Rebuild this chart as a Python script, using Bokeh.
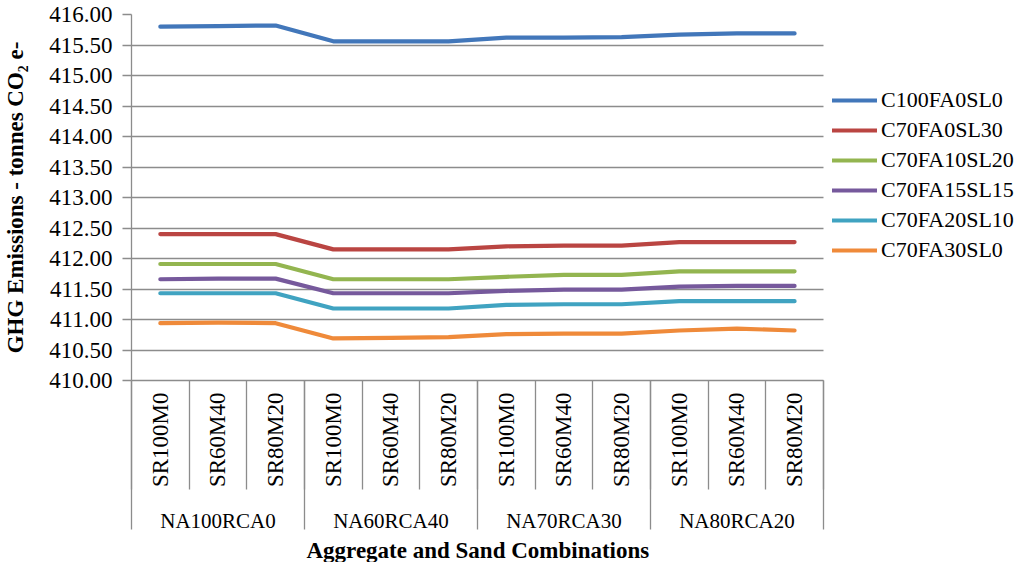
import math
from bokeh.plotting import figure
from bokeh.models import (LinearAxis, Range1d, FixedTicker, NumeralTickFormatter,
                          CustomJSTickFormatter, Legend, LegendItem, ColumnDataSource,
                          Title)
from bokeh.embed import file_html
from bokeh.resources import INLINE

# ---------------- data ----------------
groups = ["NA100RCA0", "NA60RCA40", "NA70RCA30", "NA80RCA20"]
subs = ["SR100M0", "SR60M40", "SR80M20"]

series_names = ["C100FA0SL0", "C70FA0SL30", "C70FA10SL20",
                "C70FA15SL15", "C70FA20SL10", "C70FA30SL0"]

c100fa0sl0 = [415.80, 415.81, 415.82, 415.56, 415.56, 415.56,
              415.62, 415.62, 415.63, 415.67, 415.69, 415.69]
c70fa0sl30 = [412.40, 412.40, 412.40, 412.15, 412.15, 412.15,
              412.20, 412.21, 412.21, 412.27, 412.27, 412.27]
c70fa10sl20 = [411.91, 411.91, 411.91, 411.66, 411.66, 411.66,
               411.70, 411.73, 411.73, 411.79, 411.79, 411.79]
c70fa15sl15 = [411.66, 411.67, 411.67, 411.43, 411.43, 411.43,
               411.47, 411.49, 411.49, 411.54, 411.55, 411.55]
c70fa20sl10 = [411.43, 411.43, 411.43, 411.18, 411.18, 411.18,
               411.24, 411.25, 411.25, 411.30, 411.30, 411.30]
c70fa30sl0 = [410.94, 410.95, 410.94, 410.69, 410.70, 410.71,
              410.76, 410.77, 410.77, 410.82, 410.85, 410.82]

y_ticks = [410.0, 410.5, 411.0, 411.5, 412.0, 412.5, 413.0,
           413.5, 414.0, 414.5, 415.0, 415.5, 416.0]

series_values = [c100fa0sl0, c70fa0sl30, c70fa10sl20,
                 c70fa15sl15, c70fa20sl10, c70fa30sl0]
colors = ["#4277BA", "#BA4542", "#93B550", "#76599C", "#40A3C1", "#EF8A3A"]

# ---------------- layout / styling ----------------
FONT = "Liberation Serif"
GRID = "#8C8C8C"
TEXT = "#000000"

W, H = 1024, 562
LEFT = 127          # space for the y axis
PLOT_W = 695        # width of the category area
FRAME_W = W - LEFT  # frame also holds the legend on the right

factors = [(g, s) for g in groups for s in subs]
n = len(factors)
k = len(subs)
x_pos = [i + 0.5 for i in range(n)]          # category centres
x_end = n * FRAME_W / PLOT_W                  # extend range so legend fits in frame

p = figure(width=W, height=H,
           x_range=Range1d(0, x_end),
           y_range=Range1d(y_ticks[0], y_ticks[-1]),
           x_axis_location=None,
           output_backend="svg", toolbar_location=None,
           min_border_left=LEFT, min_border_right=0,
           min_border_top=14, min_border_bottom=0)
p.outline_line_color = None
p.background_fill_color = "white"
p.border_fill_color = "white"
p.xgrid.visible = False

# y axis
ya = p.yaxis[0]
ya.ticker = FixedTicker(ticks=y_ticks)
ya.formatter = NumeralTickFormatter(format="0.00")
ya.axis_line_color = GRID
ya.axis_line_width = 1.3
ya.major_tick_line_color = GRID
ya.major_tick_line_width = 1.3
ya.major_tick_out = 9
ya.major_tick_in = 0
ya.minor_tick_line_color = None
ya.major_label_text_font = FONT
ya.major_label_text_font_size = "23px"
ya.major_label_text_color = TEXT
ya.major_label_standoff = 10
ya.axis_label = "GHG Emissions - tonnes CO\u2082 e-"
ya.axis_label_text_font = FONT
ya.axis_label_text_font_style = "bold"
ya.axis_label_text_font_size = "23px"
ya.axis_label_text_color = TEXT
ya.axis_label_standoff = 18

p.ygrid.grid_line_color = GRID
p.ygrid.grid_line_width = 1.3
p.ygrid.ticker = FixedTicker(ticks=y_ticks)
p.ygrid.cross_bounds = (0, n)

# separator axis: category boundary lines below the plot
sep = LinearAxis(ticker=FixedTicker(ticks=list(range(0, n + 1, k)),
                                    minor_ticks=list(range(0, n + 1))),
                 formatter=CustomJSTickFormatter(code="return ''"),
                 bounds=(0, n))
sep.axis_line_color = GRID
sep.axis_line_width = 1.3
sep.major_tick_line_color = GRID
sep.major_tick_line_width = 1.3
sep.major_tick_in = -149
sep.major_tick_out = 0
sep.minor_tick_line_color = GRID
sep.minor_tick_line_width = 1.3
sep.minor_tick_in = -109
sep.minor_tick_out = 0
sep.major_label_standoff = 0
p.add_layout(sep, "below")

# sub-category labels (centre of each category)
sub_labels = [s for g, s in factors]
xa = LinearAxis(ticker=FixedTicker(ticks=x_pos, minor_ticks=[]),
                major_label_overrides={pos: lab for pos, lab in zip(x_pos, sub_labels)},
                bounds=(0, n))
xa.axis_line_color = None
xa.major_tick_line_color = None
xa.major_tick_out = 0
xa.major_tick_in = 0
xa.minor_tick_line_color = None
xa.minor_tick_out = 0
xa.major_label_orientation = math.pi / 2
xa.major_label_text_font = FONT
xa.major_label_text_font_size = "23px"
xa.major_label_text_color = TEXT
xa.major_label_standoff = 12
p.add_layout(xa, "below")

# group labels (centre of each group)
grp_pos = [k * (j + 0.5) for j in range(len(groups))]
ga = LinearAxis(ticker=FixedTicker(ticks=grp_pos, minor_ticks=[]),
                major_label_overrides={pos: lab for pos, lab in zip(grp_pos, groups)},
                bounds=(0, n))
ga.axis_line_color = None
ga.major_tick_line_color = None
ga.major_tick_out = 0
ga.major_tick_in = 0
ga.minor_tick_line_color = None
ga.minor_tick_out = 0
ga.major_label_text_font = FONT
ga.major_label_text_font_size = "21px"
ga.major_label_text_color = TEXT
ga.major_label_standoff = 18
p.add_layout(ga, "below")

# x axis title, centred under the category area
xt = Title(text="Aggregate and Sand Combinations", align="left", offset=175,
           text_font=FONT, text_font_style="bold", text_font_size="23px",
           text_color=TEXT, standoff=0)
p.add_layout(xt, "below")

# series
items = []
for name, vals, col in zip(series_names, series_values, colors):
    src = ColumnDataSource(dict(x=x_pos, y=vals))
    r = p.line("x", "y", source=src, line_color=col, line_width=4.2,
               line_join="round", line_cap="round")
    items.append(LegendItem(label=name, renderers=[r]))

legend = Legend(items=items, location=(PLOT_W + 6, 117))
legend.padding = 0
legend.margin = 0
legend.spacing = 4
legend.glyph_width = 45
legend.glyph_height = 24
legend.label_height = 24
legend.label_standoff = 4
legend.label_text_font = FONT
legend.label_text_font_size = "22px"
legend.label_text_color = TEXT
legend.border_line_color = None
legend.background_fill_alpha = 0
p.add_layout(legend)

open("out.html", "w").write(file_html(p, INLINE))
